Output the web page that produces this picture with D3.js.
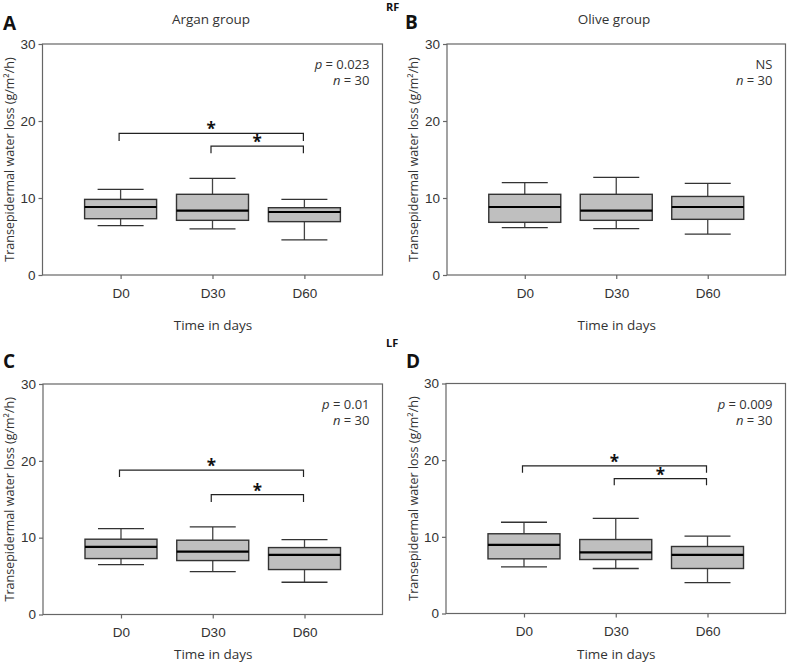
<!DOCTYPE html>
<html>
<head>
<meta charset="utf-8">
<script src="https://cdn.jsdelivr.net/npm/d3@7"></script>
<style>
  html, body { margin: 0; padding: 0; background: #fff; }
  svg { display: block; font-family: "Open Sans", "Noto Sans", sans-serif; }
</style>
</head>
<body>
<svg id="chart" width="787" height="663"></svg>
<script>
// ---------- DATA ----------
const categories = ["D0", "D30", "D60"];
const yTicks = [0, 10, 20, 30];
// box stats per category: [whisker low, Q1, median, Q3, whisker high]
const statsA = [[6.4, 7.31, 8.83, 9.82, 11.13], [6.0, 7.1, 8.35, 10.48, 12.56], [4.55, 6.93, 8.18, 8.74, 9.83]];
const statsB = [[6.15, 6.84, 8.83, 10.48, 11.99], [6.02, 7.1, 8.35, 10.48, 12.68], [5.32, 7.23, 8.83, 10.2, 11.9]];
const statsC = [[6.5, 7.28, 8.8, 9.8, 11.18], [5.59, 7.02, 8.19, 9.67, 11.4], [4.2, 5.85, 7.76, 8.71, 9.75]];
const statsD = [[6.09, 7.13, 8.96, 10.4, 11.9], [5.87, 7.04, 7.96, 9.65, 12.4], [4.04, 5.87, 7.65, 8.74, 10.1]];
// significance brackets: [from, to, bar level, leg end level]
const bracketsA = [["D0", "D60", 18.4, 17.4], ["D30", "D60", 16.75, 15.8]];
const bracketsB = [];
const bracketsC = [["D0", "D60", 18.8, 17.9], ["D30", "D60", 15.6, 14.65]];
const bracketsD = [["D0", "D60", 19.26, 18.35], ["D30", "D60", 17.6, 16.74]];
const statLabels = ["p = 0.023", "NS", "p = 0.01", "p = 0.009"];
const nLabels = ["n = 30", "n = 30", "n = 30", "n = 30"];
const panelLetters = ["A", "B", "C", "D"];
const panelTitles = ["Argan group", "Olive group", "", ""];
const sideLabels = ["RF", "LF"];
const yLabel = "Transepidermal water loss (g/m\u00B2/h)";
const xLabel = "Time in days";

// ---------- LAYOUT ----------
const panels = [
  { stats: statsA, br: bracketsA, x0: 42.5, x1: 382.5, y0: 44, y1: 275, ylabX: 10, letter: [3, 30], title: [211, 24], xlabY: 330 },
  { stats: statsB, br: bracketsB, x0: 447, x1: 785.5, y0: 44, y1: 275, ylabX: 414, letter: [405, 29], title: [614, 24], xlabY: 330 },
  { stats: statsC, br: bracketsC, x0: 43, x1: 382.5, y0: 384, y1: 614.5, ylabX: 10, letter: [3, 368], title: null, xlabY: 659 },
  { stats: statsD, br: bracketsD, x0: 446, x1: 785.5, y0: 383.5, y1: 613.5, ylabX: 414, letter: [406, 368], title: null, xlabY: 659 }
];

const svg = d3.select("#chart");
const frameColor = "#666";
const textColor = "#333";

panels.forEach((p, i) => {
  const g = svg.append("g");
  const x = d3.scalePoint().domain(categories).range([p.x0, p.x1]).padding(0.85);
  const y = d3.scaleLinear().domain([0, 30]).range([p.y1, p.y0]);

  // frame
  g.append("rect").attr("x", p.x0).attr("y", p.y0).attr("width", p.x1 - p.x0).attr("height", p.y1 - p.y0)
    .attr("fill", "none").attr("stroke", frameColor).attr("stroke-width", 1.2);

  // y axis
  const yAxis = g.append("g").attr("transform", `translate(${p.x0},0)`)
    .call(d3.axisLeft(y).tickValues(yTicks).tickSize(4).tickPadding(3).tickFormat(d3.format("d")));
  yAxis.select(".domain").remove();
  yAxis.selectAll("line").attr("stroke", frameColor).attr("stroke-width", 1.2);
  yAxis.selectAll("text").attr("fill", textColor).style("font-size", "13.5px").style("font-family", "inherit");

  // x axis
  const xAxis = g.append("g").attr("transform", `translate(0,${p.y1})`)
    .call(d3.axisBottom(x).tickSize(4).tickPadding(9));
  xAxis.select(".domain").remove();
  xAxis.selectAll("line").attr("stroke", frameColor).attr("stroke-width", 1.2);
  xAxis.selectAll("text").attr("fill", textColor).style("font-size", "13.5px").style("font-family", "inherit");

  // boxes
  const boxHalf = 36, capHalf = 23;
  categories.forEach((c, j) => {
    const [lo, q1, med, q3, hi] = p.stats[j];
    const cx = x(c);
    const bg = g.append("g");
    bg.append("line").attr("x1", cx).attr("x2", cx).attr("y1", y(hi)).attr("y2", y(q3)).attr("stroke", "#444").attr("stroke-width", 1.3);
    bg.append("line").attr("x1", cx).attr("x2", cx).attr("y1", y(q1)).attr("y2", y(lo)).attr("stroke", "#444").attr("stroke-width", 1.3);
    bg.append("line").attr("x1", cx - capHalf).attr("x2", cx + capHalf).attr("y1", y(hi)).attr("y2", y(hi)).attr("stroke", "#333").attr("stroke-width", 1.3);
    bg.append("line").attr("x1", cx - capHalf).attr("x2", cx + capHalf).attr("y1", y(lo)).attr("y2", y(lo)).attr("stroke", "#333").attr("stroke-width", 1.3);
    bg.append("rect").attr("x", cx - boxHalf).attr("y", y(q3)).attr("width", boxHalf * 2).attr("height", y(q1) - y(q3))
      .attr("fill", "#bfbfbf").attr("stroke", "#333").attr("stroke-width", 1.4);
    bg.append("line").attr("x1", cx - boxHalf).attr("x2", cx + boxHalf).attr("y1", y(med)).attr("y2", y(med)).attr("stroke", "#000").attr("stroke-width", 2.2);
  });

  // brackets
  p.br.forEach(([a, b, lvl, leg]) => {
    const xa = x(a) - 1.5, xb = x(b) - 1;
    g.append("path").attr("d", `M${xa},${y(leg)}V${y(lvl)}H${xb}V${y(leg)}`)
      .attr("fill", "none").attr("stroke", "#222").attr("stroke-width", 1.2);
    g.append("text").attr("x", (xa + xb) / 2).attr("y", y(lvl) + 2).attr("text-anchor", "middle")
      .style("font-size", "17px").style("font-weight", "bold").attr("fill", "#111").text("*");
  });

  // stat labels
  const sx = p.x1 - 13;
  const st = g.append("text").attr("x", sx).attr("y", p.y0 + 25).attr("text-anchor", "end")
    .attr("fill", textColor).style("font-size", "13px");
  const s = statLabels[i];
  if (s.startsWith("p")) {
    st.append("tspan").style("font-style", "italic").text("p");
    st.append("tspan").text(s.slice(1));
  } else {
    st.text(s);
  }
  const nt = g.append("text").attr("x", sx).attr("y", p.y0 + 41).attr("text-anchor", "end")
    .attr("fill", textColor).style("font-size", "13px");
  nt.append("tspan").style("font-style", "italic").text("n");
  nt.append("tspan").text(nLabels[i].slice(1));

  // y label
  g.append("text").attr("transform", `translate(${p.ylabX + 4},${(p.y0 + p.y1) / 2}) rotate(-90)`)
    .attr("text-anchor", "middle").attr("fill", textColor).style("font-size", "12.5px").text(yLabel);

  // x label
  g.append("text").attr("x", (p.x0 + p.x1) / 2 + 0.5).attr("y", p.xlabY).attr("text-anchor", "middle")
    .attr("fill", textColor).style("font-size", "13.5px").text(xLabel);

  // title
  if (panelTitles[i]) {
    g.append("text").attr("x", p.title[0]).attr("y", p.title[1]).attr("text-anchor", "middle")
      .attr("fill", textColor).style("font-size", "13.5px").text(panelTitles[i]);
  }

  // letter
  g.append("text").attr("x", p.letter[0]).attr("y", p.letter[1]).attr("fill", "#111")
    .style("font-size", "19px").style("font-weight", "bold").text(panelLetters[i]);
});

// side labels
svg.append("text").attr("x", 386).attr("y", 11).attr("fill", "#111").style("font-size", "11px").style("font-weight", "bold").text(sideLabels[0]);
svg.append("text").attr("x", 386).attr("y", 347).attr("fill", "#111").style("font-size", "11px").style("font-weight", "bold").text(sideLabels[1]);
</script>
</body>
</html>
